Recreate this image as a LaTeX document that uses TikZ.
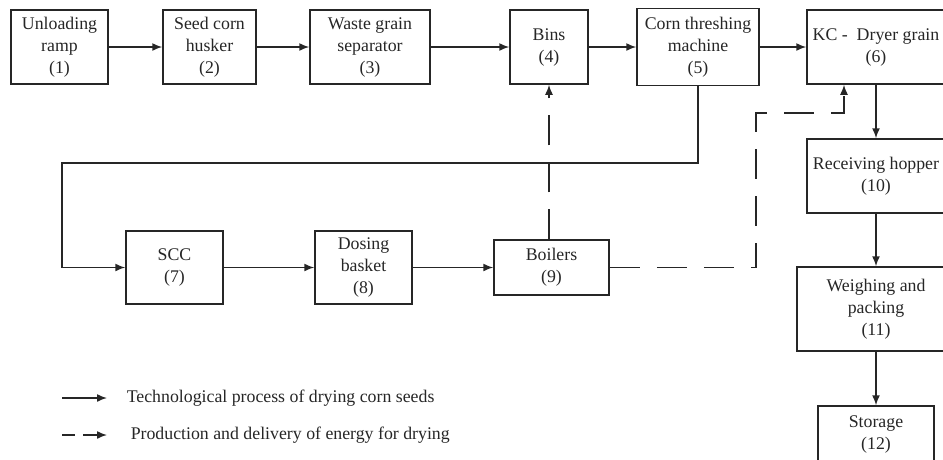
\documentclass[tikz,border=0pt]{standalone}
\usepackage{fontspec}
\setmainfont{Liberation Serif}
\usetikzlibrary{arrows.meta}

\tikzset{
  block/.style={draw,align=center,inner sep=0pt},
  energy/.style={dash pattern=on 30pt off 17pt},
  keydash/.style={dash pattern=on 13pt off 8pt on 40pt off 0pt}
}

\begin{document}
\begin{tikzpicture}[x=1pt,y=-1pt,line width=1.5pt,color=black!85,
  >={Latex[length=10pt,width=8pt]},font=\fontsize{17.8}{22}\selectfont]
  \useasboundingbox (0,0) rectangle (943,459);

  % top row
  \node[block,minimum width=97,minimum height=74] (b1) at (59.5,47) {Unloading\\ramp\\(1)};
  \node[block,minimum width=93,minimum height=74] (b2) at (209.5,47) {Seed corn\\husker\\(2)}
  edge[<-] (b1);
  \node[block,minimum width=120,minimum height=74] (b3) at (370,47) {Waste grain\\separator\\(3)}
  edge[<-] (b2);
  \node[block,minimum width=78,minimum height=74] (b4) at (549,47) {Bins\\(4)}
  edge[<-] (b3);
  \node[block,minimum width=122,minimum height=77] (b5) at (698,47) {Corn threshing\\machine\\(5)}
  edge[<-] (b4);
  \node[block,minimum width=138,minimum height=74] (b6) at (876,47) {KC -~ Dryer grain\\(6)}
  edge[<-] (b5);

  % right column
  \node[block,minimum width=138,minimum height=74] (b10) at (876,176) {Receiving hopper\\(10)}
  edge[<-] (b6);
  \node[block,minimum width=158,minimum height=84] (b11) at (876,309) {Weighing and\\packing\\(11)}
  edge[<-] (b10);
  \node[block,minimum width=116,minimum height=56] (b12) at (876,434) {Storage\\(12)}
  edge[<-] (b11);

  % bottom row
  \node[block,minimum width=97,minimum height=73] (b7) at (174.5,267.5) {SCC\\(7)};
  \node[block,minimum width=97,minimum height=73] (b8) at (363.5,267.5) {Dosing\\basket\\(8)}
  edge[<-] (b7);
  \node[block,minimum width=115,minimum height=55] (b9) at (551.5,267.5) {Boilers\\(9)}
  edge[<-] (b8);

  \coordinate (turn) at (62,163);
  \draw[->] (b5.south) |- (turn) |- (b7.west);

  % energy lines
  \coordinate (bend) at (756,113);
  \draw[energy,->] (b9.north -| b4) -- (b4.south);
  \draw[energy,->] (b9.east) -| (bend) -| ([xshift=-32pt]b6.south);

  % legend
  \coordinate (k1) at (62,398);
  \coordinate (k2) at (107,398);
  \node[anchor=west,inner sep=0pt] (t1) at (126,398) {Technological process of drying corn seeds};
  \draw[->] (k1) -- (k2);
  \coordinate (k3) at (62,435);
  \coordinate (k4) at (107,435);
  \node[anchor=west,inner sep=0pt] (t2) at (130,435) {Production and delivery of energy for drying};
  \draw[keydash,->] (k3) -- (k4);
\end{tikzpicture}
\end{document}
